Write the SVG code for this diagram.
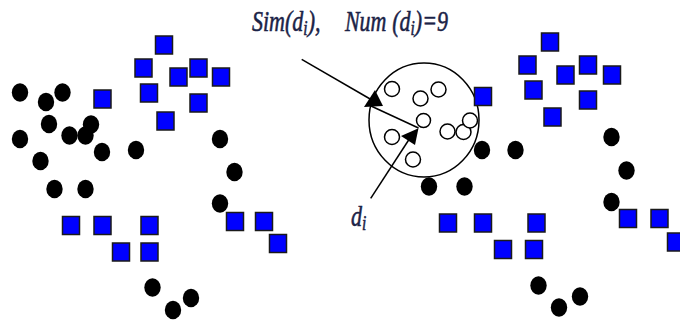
<svg xmlns="http://www.w3.org/2000/svg" xmlns:xlink="http://www.w3.org/1999/xlink" width="680" height="320" viewBox="0 0 680 320">
<style>
.sq{fill:#0000ff;stroke:#1a1a1a;stroke-width:1.5}
.dot{fill:#000}
.open{fill:#fff;stroke:#000;stroke-width:1.5}
.ln{stroke:#000;stroke-width:1.5;fill:none}
.ah{fill:#000;stroke:none}
.lbl{font-family:"Liberation Serif","Times New Roman",serif;font-style:italic;fill:#1b2347;stroke:#1b2347;stroke-width:0.5px;font-size:27px}
.sub{font-size:19px}
</style>
<defs>
<rect id="sq" x="-8.5" y="-9" width="17" height="18"/>
<ellipse id="dot" cx="0" cy="0" rx="8.2" ry="9.2"/>
</defs>
<rect width="680" height="320" fill="#fff"/>
<g id="neighborhood-circle">
<ellipse cx="424" cy="120" rx="55" ry="57" class="ln"/>
</g>
<g id="left-cluster">
<g class="sq">
<use xlink:href="#sq" x="164" y="45"/>
<use xlink:href="#sq" x="143.5" y="68"/>
<use xlink:href="#sq" x="178.5" y="77"/>
<use xlink:href="#sq" x="198.5" y="68"/>
<use xlink:href="#sq" x="221" y="77"/>
<use xlink:href="#sq" x="149" y="93"/>
<use xlink:href="#sq" x="198.5" y="103"/>
<use xlink:href="#sq" x="165.5" y="121"/>
<use xlink:href="#sq" x="102.5" y="99"/>
<use xlink:href="#sq" x="71" y="225.5"/>
<use xlink:href="#sq" x="102.5" y="225.5"/>
<use xlink:href="#sq" x="149.5" y="225.5"/>
<use xlink:href="#sq" x="121" y="252"/>
<use xlink:href="#sq" x="149.5" y="252"/>
<use xlink:href="#sq" x="235" y="221.5"/>
<use xlink:href="#sq" x="264" y="221.5"/>
<use xlink:href="#sq" x="278" y="243.5"/>
</g>
<g class="dot">
<use xlink:href="#dot" x="20" y="92.5"/>
<use xlink:href="#dot" x="46" y="102"/>
<use xlink:href="#dot" x="62.5" y="92.5"/>
<use xlink:href="#dot" x="49" y="124"/>
<use xlink:href="#dot" x="91" y="124.5"/>
<use xlink:href="#dot" x="69.5" y="135.5"/>
<use xlink:href="#dot" x="85.5" y="135.5"/>
<use xlink:href="#dot" x="20" y="139"/>
<use xlink:href="#dot" x="102" y="152"/>
<use xlink:href="#dot" x="136" y="150"/>
<use xlink:href="#dot" x="40.5" y="161"/>
<use xlink:href="#dot" x="220" y="139"/>
<use xlink:href="#dot" x="234.5" y="172"/>
<use xlink:href="#dot" x="54.5" y="189"/>
<use xlink:href="#dot" x="85.5" y="189"/>
<use xlink:href="#dot" x="220" y="203.5"/>
<use xlink:href="#dot" x="152.5" y="287.5"/>
<use xlink:href="#dot" x="173" y="310"/>
<use xlink:href="#dot" x="191" y="298"/>
</g>
</g>
<g id="right-cluster">
<g class="sq">
<use xlink:href="#sq" x="550" y="42"/>
<use xlink:href="#sq" x="527.5" y="65"/>
<use xlink:href="#sq" x="565.5" y="75"/>
<use xlink:href="#sq" x="588" y="65"/>
<use xlink:href="#sq" x="612" y="75"/>
<use xlink:href="#sq" x="533.5" y="90"/>
<use xlink:href="#sq" x="588" y="100"/>
<use xlink:href="#sq" x="552.5" y="117"/>
<use xlink:href="#sq" x="483" y="96.5"/>
<use xlink:href="#sq" x="448" y="223"/>
<use xlink:href="#sq" x="483" y="223"/>
<use xlink:href="#sq" x="536.5" y="223"/>
<use xlink:href="#sq" x="503" y="249.5"/>
<use xlink:href="#sq" x="534" y="249.5"/>
<use xlink:href="#sq" x="628" y="218.5"/>
<use xlink:href="#sq" x="659.5" y="218.5"/>
<use xlink:href="#sq" x="676" y="242"/>
</g>
<g class="dot">
<use xlink:href="#dot" x="482" y="150"/>
<use xlink:href="#dot" x="515.5" y="150"/>
<use xlink:href="#dot" x="611.5" y="137"/>
<use xlink:href="#dot" x="626.5" y="170.5"/>
<use xlink:href="#dot" x="429" y="186.5"/>
<use xlink:href="#dot" x="464.5" y="186.5"/>
<use xlink:href="#dot" x="611.5" y="202"/>
<use xlink:href="#dot" x="538.5" y="285.5"/>
<use xlink:href="#dot" x="559" y="307.5"/>
<use xlink:href="#dot" x="580" y="296.5"/>
</g>
</g>
<g id="neighbors">
<circle class="open" cx="392" cy="89" r="7.5"/>
<circle class="open" cx="420.5" cy="98.5" r="7.5"/>
<circle class="open" cx="438.5" cy="89.5" r="7.5"/>
<circle class="open" cx="447.5" cy="131.5" r="7.5"/>
<circle class="open" cx="463.5" cy="132" r="7.5"/>
<circle class="open" cx="470" cy="120.5" r="7.5"/>
<circle class="open" cx="392" cy="137" r="7.5"/>
<circle class="open" cx="413" cy="159.5" r="7.5"/>
</g>
<g id="di">
<circle class="open" cx="423.5" cy="120.5" r="7"/>
</g>
<g id="connectors">
<line class="ln" x1="301.7" y1="59.3" x2="371" y2="99.5"/>
<polygon class="ah" points="383,106 364,107 375,90"/>
<line class="ln" x1="371" y1="106" x2="418.5" y2="128"/>
<line class="ln" x1="370.7" y1="198.3" x2="409" y2="139.5"/>
<polygon class="ah" points="418.5,128.3 401,136 415,145"/>
</g>
<g id="labels">
<text class="lbl" transform="translate(252,31) scale(0.815,1.12)"><tspan x="0" y="0">Sim(d</tspan><tspan class="sub" y="4">i</tspan><tspan y="0">),</tspan><tspan x="114" y="0">Num</tspan><tspan x="172" y="0">(d</tspan><tspan class="sub" y="4">i</tspan><tspan y="0">)=9</tspan></text>
<text class="lbl" transform="translate(351,226) scale(0.815,1.12)"><tspan x="0" y="0">d</tspan><tspan class="sub" y="4">i</tspan></text>
</g>
</svg>
